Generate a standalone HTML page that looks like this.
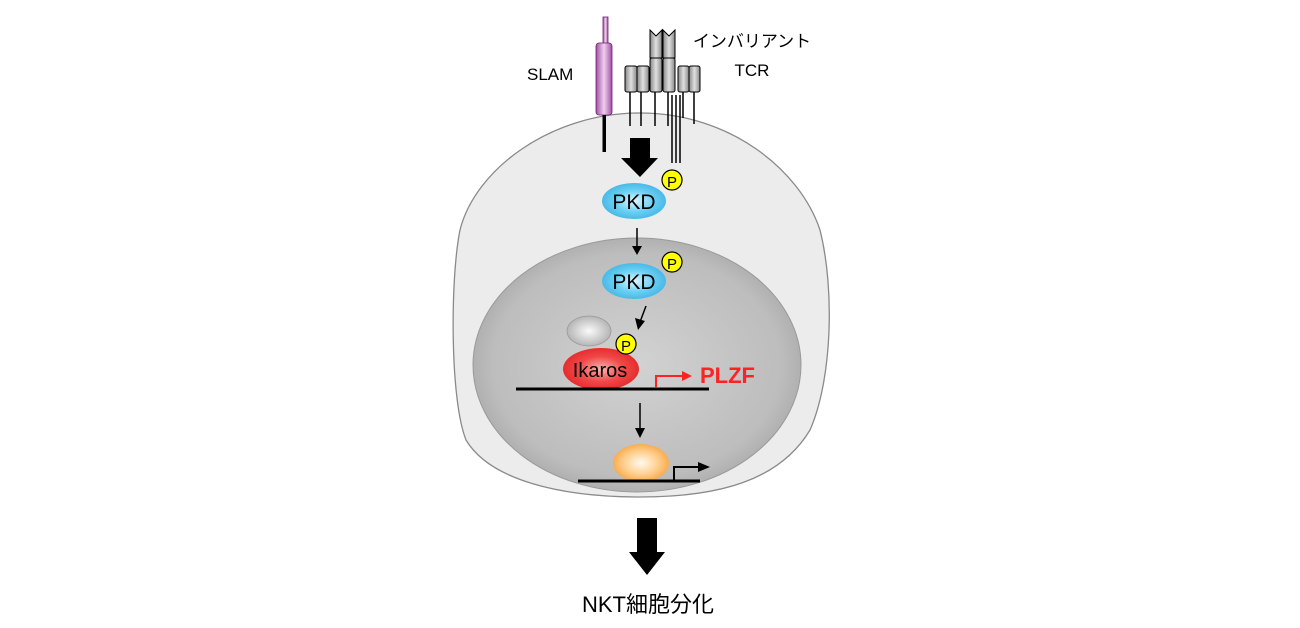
<!DOCTYPE html>
<html><head><meta charset="utf-8"><style>
html,body{margin:0;padding:0;background:#fff;width:1300px;height:628px;overflow:hidden}
</style></head><body>
<svg width="1300" height="628" viewBox="0 0 1300 628" xmlns="http://www.w3.org/2000/svg" font-family="Liberation Sans, Noto Sans CJK JP, sans-serif">
<defs>
<radialGradient id="nuc" cx="0.5" cy="0.5" r="0.55"><stop offset="0" stop-color="#d2d2d2"/><stop offset="0.8" stop-color="#bdbdbd"/><stop offset="1" stop-color="#a6a6a6"/></radialGradient>
<radialGradient id="blue" cx="0.5" cy="0.5" r="0.6"><stop offset="0" stop-color="#e0f6ff"/><stop offset="0.5" stop-color="#6ad0f4"/><stop offset="1" stop-color="#3aaee0"/></radialGradient>
<radialGradient id="red" cx="0.5" cy="0.5" r="0.6"><stop offset="0" stop-color="#ffb0b0"/><stop offset="0.5" stop-color="#f04848"/><stop offset="1" stop-color="#e02020"/></radialGradient>
<radialGradient id="gray" cx="0.5" cy="0.5" r="0.6"><stop offset="0" stop-color="#fafafa"/><stop offset="1" stop-color="#a8a8a8"/></radialGradient>
<radialGradient id="org" cx="0.5" cy="0.5" r="0.6"><stop offset="0" stop-color="#fffaf0"/><stop offset="0.5" stop-color="#ffd090"/><stop offset="1" stop-color="#f59a30"/></radialGradient>
<linearGradient id="cyl" x1="0" x2="1"><stop offset="0" stop-color="#888"/><stop offset="0.5" stop-color="#e0e0e0"/><stop offset="1" stop-color="#888"/></linearGradient>
<linearGradient id="pur" x1="0" x2="1"><stop offset="0" stop-color="#a050a0"/><stop offset="0.5" stop-color="#f0d0f0"/><stop offset="1" stop-color="#a050a0"/></linearGradient>
</defs>
<path d="M640,113 C730,113 800,170 820,230 C835,290 832,380 810,430 C780,480 720,497 640,497 C560,497 490,480 466,440 C450,400 450,280 460,230 C475,170 550,113 640,113 Z" fill="#ececec" stroke="#8a8a8a" stroke-width="1.3"/>
<ellipse cx="637" cy="365" rx="164" ry="127" fill="url(#nuc)" stroke="#9a9a9a" stroke-width="1"/>
<!-- SLAM -->
<rect x="603" y="17" width="5" height="28" fill="url(#pur)" stroke="#6a206a" stroke-width="0.8"/>
<rect x="596" y="43" width="16" height="72" rx="3" fill="url(#pur)" stroke="#6a206a" stroke-width="0.8"/>
<rect x="602.5" y="115" width="3.5" height="37" fill="#000"/>
<text x="527" y="80" font-size="17">SLAM</text>
<!-- TCR -->
<g stroke="#000" stroke-width="1" fill="url(#cyl)">
<rect x="625" y="66" width="12" height="26" rx="2"/><rect x="637" y="66" width="12" height="26" rx="2"/>
<rect x="650" y="58" width="12" height="34" rx="2"/><rect x="663" y="58" width="12" height="34" rx="2"/>
<path d="M650,58 V30 L656,36 L662,30 V58 Z"/><path d="M663,58 V30 L669,36 L675,30 V58 Z"/>
<rect x="678" y="66" width="11" height="26" rx="2"/><rect x="689" y="66" width="11" height="26" rx="2"/>
</g>
<g stroke="#000" stroke-width="1.5">
<line x1="630" y1="92" x2="630" y2="126"/><line x1="641" y1="92" x2="641" y2="126"/>
<line x1="655" y1="92" x2="655" y2="126"/><line x1="668" y1="92" x2="668" y2="126"/>
<line x1="683" y1="92" x2="683" y2="118"/><line x1="694" y1="92" x2="694" y2="124"/>
<line x1="672" y1="95" x2="672" y2="163"/><line x1="676" y1="95" x2="676" y2="163"/><line x1="680" y1="95" x2="680" y2="163"/>
</g>
<text x="752" y="47" font-size="17" text-anchor="middle">インバリアント</text>
<text x="752" y="76" font-size="17" text-anchor="middle">TCR</text>
<!-- big arrow -->
<path d="M630,138 H650 V158 H658 L640,177 L621,158 H630 Z" fill="#000"/>
<!-- PKD1 -->
<ellipse cx="634" cy="201" rx="32" ry="18" fill="url(#blue)"/>
<text x="634" y="209" font-size="21" text-anchor="middle">PKD</text>
<circle cx="672" cy="180" r="10" fill="#ff0" stroke="#000" stroke-width="1.2"/>
<text x="672" y="187" font-size="15" text-anchor="middle">P</text>
<line x1="637" y1="228" x2="637" y2="249" stroke="#000" stroke-width="1.5"/><path d="M632,246 L637,255 L642,246 Z"/>
<!-- PKD2 -->
<ellipse cx="634" cy="281" rx="32" ry="18" fill="url(#blue)"/>
<text x="634" y="289" font-size="21" text-anchor="middle">PKD</text>
<circle cx="672" cy="262" r="10" fill="#ff0" stroke="#000" stroke-width="1.2"/>
<text x="672" y="269" font-size="15" text-anchor="middle">P</text>
<line x1="646" y1="306" x2="640" y2="322" stroke="#000" stroke-width="1.5"/><path d="M635,318 L638,330 L645,321 Z"/>
<!-- gray + Ikaros -->
<ellipse cx="589" cy="331" rx="22" ry="15" fill="url(#gray)" stroke="#999" stroke-width="0.8"/>
<ellipse cx="601" cy="369" rx="38" ry="21" fill="url(#red)"/>
<text x="600" y="377" font-size="20" text-anchor="middle">Ikaros</text>
<circle cx="626" cy="344" r="10" fill="#ff0" stroke="#000" stroke-width="1.2"/>
<text x="626" y="351" font-size="15" text-anchor="middle">P</text>
<line x1="516" y1="389" x2="709" y2="389" stroke="#000" stroke-width="3"/>
<path d="M656,388 V376 H684" fill="none" stroke="#f22" stroke-width="2"/><path d="M682,371 L692,376 L682,381 Z" fill="#f22"/>
<text x="700" y="383" font-size="22" font-weight="bold" fill="#f22">PLZF</text>
<line x1="640" y1="403" x2="640" y2="430" stroke="#000" stroke-width="1.5"/><path d="M635,428 L640,438 L645,428 Z"/>
<!-- orange -->
<ellipse cx="641" cy="463" rx="28" ry="19" fill="url(#org)"/>
<line x1="578" y1="481" x2="700" y2="481" stroke="#000" stroke-width="3"/>
<path d="M674,480 V467 H700" fill="none" stroke="#000" stroke-width="2"/><path d="M698,462 L710,467 L698,472 Z"/>
<!-- bottom arrow -->
<path d="M637,518 H657 V552 H665 L647,575 L629,552 H637 Z" fill="#000"/>
<text x="648" y="612" font-size="22" text-anchor="middle">NKT細胞分化</text>
</svg>
</body></html>
